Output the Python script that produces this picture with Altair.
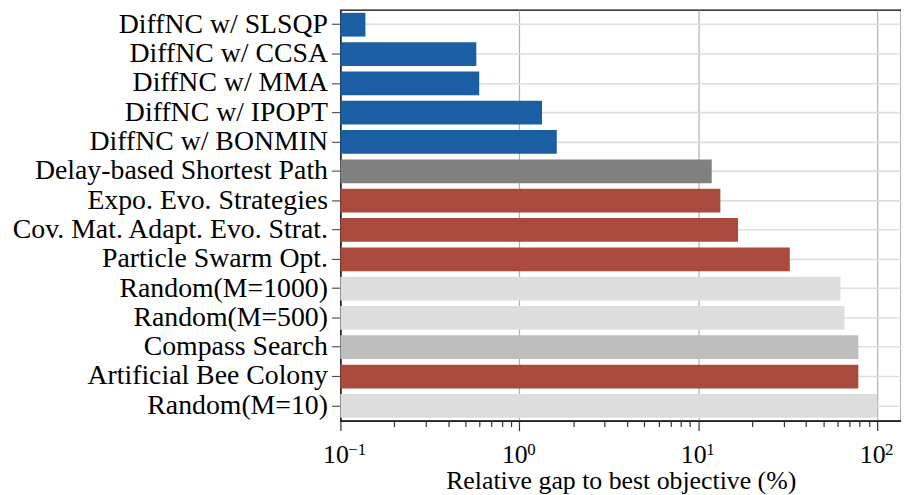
import altair as alt
import pandas as pd

methods = [
    "DiffNC w/ SLSQP", "DiffNC w/ CCSA", "DiffNC w/ MMA", "DiffNC w/ IPOPT",
    "DiffNC w/ BONMIN", "Delay-based Shortest Path", "Expo. Evo. Strategies",
    "Cov. Mat. Adapt. Evo. Strat.", "Particle Swarm Opt.", "Random(M=1000)",
    "Random(M=500)", "Compass Search", "Artificial Bee Colony", "Random(M=10)",
]
gaps = [0.138, 0.575, 0.597, 1.34, 1.62, 11.9, 13.3, 16.7, 32.5, 62.4, 65.7, 78.5, 78.5, 100.0]
colors = [
    "#1a5ea3", "#1a5ea3", "#1a5ea3", "#1a5ea3", "#1a5ea3", "#808080",
    "#a84b3c", "#a84b3c", "#a84b3c", "#dddddd", "#dddddd", "#bdbdbd",
    "#a84b3c", "#dddddd",
]
major_ticks = [0.1, 1.0, 10.0, 100.0]
major_exps = ["\u22121", "0", "1", "2"]
minor_ticks = [m * 10.0 ** e for e in (-1, 0, 1) for m in range(2, 10)]

df = pd.DataFrame({"method": methods, "gap": gaps, "color": colors})
df_exp = pd.DataFrame({"v": major_ticks, "exp": major_exps})

FONT = "Liberation Serif, Times New Roman, DejaVu Serif, serif"
xscale = alt.Scale(type="log", domain=[0.1, 136], nice=False)

yenc = alt.Y(
    "method:N", sort=None, title=None,
    scale=alt.Scale(paddingInner=0.19, paddingOuter=0.1),
    axis=alt.Axis(
        labelFont=FONT, labelFontSize=28, labelColor="black", labelPadding=4,
        tickSize=9, tickColor="#555555", tickWidth=1.2,
        domainColor="black", domainWidth=1.2,
        grid=True, gridColor="#dddddd", gridWidth=1.6, labelLimit=500,
    ),
)

bars = alt.Chart(df).mark_bar().encode(
    y=yenc,
    x=alt.X(
        "gap:Q", title="Relative gap to best objective (%)", scale=xscale,
        axis=alt.Axis(
            orient="bottom", values=major_ticks, labelExpr="'10'",
            labelFont=FONT, labelFontSize=26, labelColor="black", labelPadding=11,
            labelAlign="right", labelOffset=8, labelFlush=False,
            titleFont=FONT, titleFontSize=26, titleFontWeight="normal", titleColor="black",
            titlePadding=0,
            tickColor="#333333", tickWidth=1.2, tickSize=10,
            domainColor="black", domainWidth=1.2,
            grid=True, gridColor="#b0b0b0", gridWidth=1.2,
        ),
    ),
    x2=alt.X2(datum=0.1),
    color=alt.Color("color:N", scale=None, legend=None),
)

minor = alt.Chart(df).mark_bar(opacity=0).encode(
    y=yenc,
    x=alt.X(
        "gap:Q", title=None, scale=xscale,
        axis=alt.Axis(
            orient="bottom", values=minor_ticks, labels=False, grid=False,
            tickColor="#333333", tickWidth=1.2, tickSize=6, domain=False,
        ),
    ),
    x2=alt.X2(datum=0.1),
)

exps = alt.Chart(df_exp).mark_text(
    align="left", baseline="alphabetic", dx=8, font=FONT, fontSize=17, color="black",
).encode(
    x=alt.X("v:Q", scale=xscale, axis=None),
    y=alt.value(449),
    text="exp:N",
)

chart = alt.layer(bars, minor, exps).resolve_axis(x="independent").properties(
    width=565, height=414,
    autosize=alt.AutoSizeParams(type="none"),
    padding={"left": 335, "top": 0, "right": 0, "bottom": 73},
).configure(
    font=FONT, background="white",
).configure_view(
    stroke="black", strokeWidth=1.2,
)

chart.save("out.html", embed_options={"renderer": "svg", "actions": False})
